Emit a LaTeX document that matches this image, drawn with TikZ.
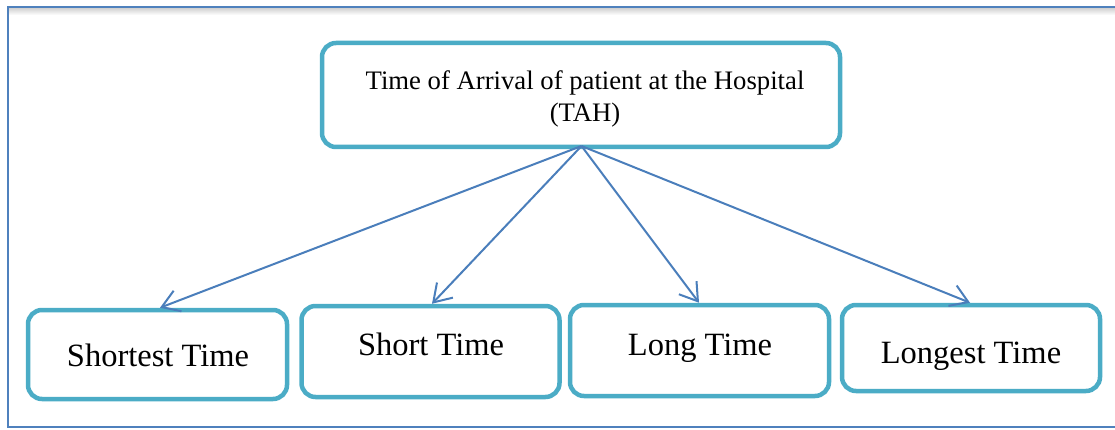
\documentclass[tikz,border=0pt]{standalone}
\usepackage{fontspec}
\setmainfont{Liberation Serif}
\usetikzlibrary{arrows.meta}
\definecolor{boxline}{HTML}{4BACC6}
\definecolor{arrowline}{HTML}{4A7EBB}
\definecolor{frameline}{HTML}{4F81BD}
\begin{document}
\begin{tikzpicture}[x=1pt,y=-1pt,
  box/.style={draw=boxline,line width=4.5pt,rounded corners=14pt,fill=white,inner sep=0pt},
  flow/.style={draw=arrowline,line width=2pt,-{Straight Barb[length=17pt,width=22pt,line width=2pt]}},
  toptext/.style={font=\fontsize{26.7}{32}\selectfont,anchor=base,inner sep=0pt},
  leaftext/.style={font=\fontsize{32.5}{38}\selectfont,anchor=base,inner sep=0pt}]
\useasboundingbox (0,0) rectangle (1115,430);
% page frame with a soft shadow under its upper edge
\shade[top color=black!18,bottom color=white] (9,8) rectangle (1115,15);
\draw[frameline,line width=1.5pt] (1120,7) -- (8,7) -- (8,427) -- (1120,427);
% boxes
\node[box,minimum width=518pt,minimum height=104pt] (tah) at (581,95) {};
\node[box,minimum width=259pt,minimum height=89pt] (shortest) at (157.5,354.5) {};
\node[box,minimum width=258pt,minimum height=91pt] (short) at (430.5,351.5) {};
\node[box,minimum width=259pt,minimum height=91pt] (long) at (699.5,350.5) {};
\node[box,minimum width=258pt,minimum height=86pt] (longest) at (971,348) {};
% texts
\node[toptext] (tah1) at (585,90) {Time of Arrival of patient at the Hospital};
\node[toptext] (tah2) at (585,122) {(TAH)};
\node[leaftext] (t1) at (158,366) {Shortest Time};
\node[leaftext] (t2) at (431,355) {Short Time};
\node[leaftext] (t3) at (700,355) {Long Time};
\node[leaftext] (t4) at (971,363) {Longest Time};
% connectors
\coordinate (src) at (581.5,146);
\draw[flow] (src) -- (shortest.north -| 160,0);
\draw[flow] (src) -- (short.north -| 432,0);
\draw[flow] (src) -- (long.north -| 699,0);
\draw[flow] (src) -- (longest.north -| 970,0);
\end{tikzpicture}
\end{document}
